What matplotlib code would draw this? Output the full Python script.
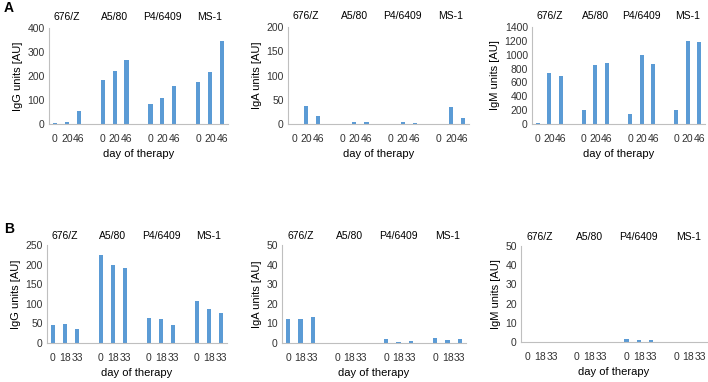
import numpy as np
import matplotlib.pyplot as plt

plt.rcParams['font.family'] = ['Liberation Sans', 'DejaVu Sans']

strains = ['676/Z', 'A5/80', 'P4/6409', 'MS-1']
days_a = ['0', '20', '46']
days_b = ['0', '18', '33']

# panel A
igg_a = [[3, 10, 55], [185, 222, 267], [83, 110, 160], [173, 216, 347]]
iga_a = [[0, 37, 16], [0, 5, 4], [0, 5, 3], [0, 35, 13]]
igm_a = [[20, 730, 690], [205, 850, 880], [150, 1000, 865], [200, 1195, 1185]]
# panel B
igg_b = [[47, 49, 35], [224, 199, 192], [65, 62, 46], [108, 87, 76]]
iga_b = [[12.2, 12.5, 13.3], [0, 0, 0], [1.8, 0.6, 0.9], [2.7, 1.6, 1.8]]
igm_b = [[0, 0, 0], [0, 0, 0], [1.5, 0.8, 0.8], [0, 0, 0]]

blue = '#5B9BD5'
W, H = 708, 382

fig = plt.figure(figsize=(W / 100, H / 100), dpi=100)


def panel(box, values, days, ylabel, ymax, ystep, lab_gap):
    left, right, top, bottom = box
    ax = fig.add_axes([left / W, 1 - bottom / H, (right - left) / W, (bottom - top) / H])
    xs, labels, vals = [], [], []
    for g, grp in enumerate(values):
        for i, v in enumerate(grp):
            xs.append(g * 4 + i)
            labels.append(days[i])
            vals.append(v)
    ax.bar(xs, vals, width=0.35, color=blue)
    ax.set_xlim(-0.5, 14.5)
    ax.set_ylim(0, ymax)
    ax.set_yticks(np.arange(0, ymax + 1, ystep))
    ax.set_xticks(xs)
    ax.set_xticklabels(labels)
    ax.tick_params(axis='both', length=0, labelsize=7.5, colors='#333333')
    ax.tick_params(axis='x', pad=7)
    ax.tick_params(axis='y', pad=3)
    for s in ['top', 'right']:
        ax.spines[s].set_visible(False)
    for s in ['left', 'bottom']:
        ax.spines[s].set_color('#BFBFBF')
        ax.spines[s].set_linewidth(0.8)
    ax.set_ylabel(ylabel, fontsize=8, labelpad=3)
    ax.set_xlabel('day of therapy', fontsize=8, labelpad=4)
    for g, name in enumerate(strains):
        ax.text(g * 4 + 1, ymax, name, ha='center', va='bottom',
                fontsize=7.5, transform=ax.transData)
        ax.texts[-1].set_y(ymax)
        ax.texts[-1].set_transform(ax.get_xaxis_transform())
        ax.texts[-1].set_position((g * 4 + 1, 1 + lab_gap / (bottom - top)))
    return ax


panel((49, 228, 28, 124), igg_a, days_a, 'IgG units [AU]', 400, 100, 6)
panel((288, 469, 27, 124), iga_a, days_a, 'IgA units [AU]', 200, 50, 6)
panel((532, 705, 27, 124), igm_a, days_a, 'IgM units [AU]', 1400, 200, 6)
panel((47, 227, 245, 343), igg_b, days_b, 'IgG units [AU]', 250, 50, 4)
panel((282, 466, 245, 343), iga_b, days_b, 'IgA units [AU]', 50, 10, 4)
panel((521, 707, 246, 342), igm_b, days_b, 'IgM units [AU]', 50, 10, 4)

fig.text(4 / W, 1 - 8 / H, 'A', fontsize=10, fontweight='bold', va='center')
fig.text(4 / W, 1 - 229 / H, 'B', fontsize=10, fontweight='bold', va='center')

fig.savefig('out.png', dpi=100)
